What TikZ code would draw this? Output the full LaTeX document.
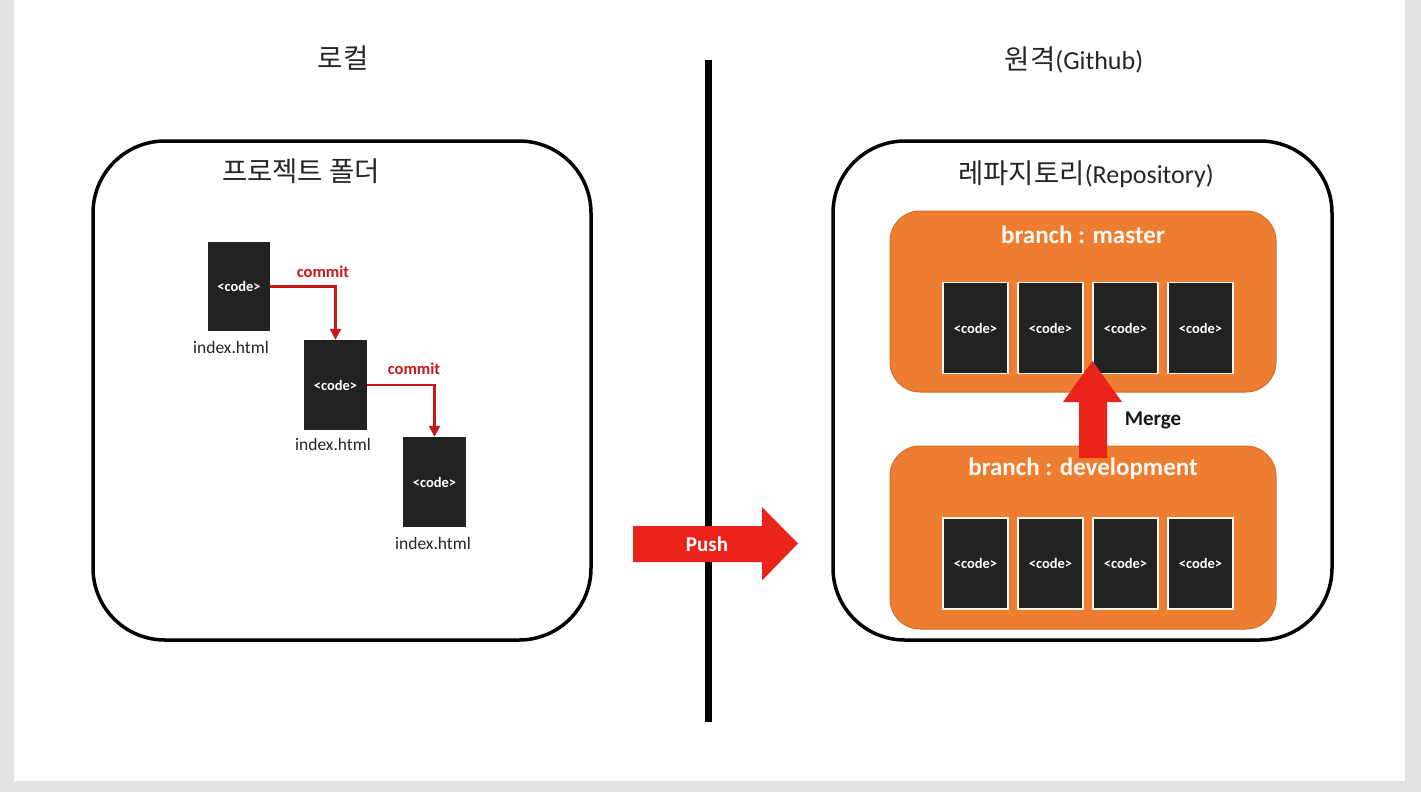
\documentclass[tikz,border=0pt]{standalone}
\usepackage{fontspec}
\setmainfont{Carlito}
\newfontfamily\kr{Noto Sans CJK KR}
\usetikzlibrary{arrows.meta}
\definecolor{pagegray}{RGB}{226,226,226}
\definecolor{codegray}{RGB}{34,34,34}
\definecolor{orangefill}{RGB}{237,125,49}
\definecolor{orangeline}{RGB}{214,110,42}
\definecolor{pushred}{RGB}{234,36,26}
\definecolor{commitred}{RGB}{200,24,24}
\tikzset{
  bigbox/.style={draw=black, line width=3.5pt, rounded corners=72pt},
  branchbox/.style={fill=orangefill, draw=orangeline, line width=1pt, rounded corners=30pt},
  codebox/.style={fill=codegray, inner sep=0pt, text=white,
    font=\bfseries\fontsize{14.5}{14.5}\selectfont},
  codeboxw/.style={codebox, draw=white!92!orange, line width=1.2pt,
    minimum width=65pt, minimum height=91pt, font=\bfseries\fontsize{14.5}{14.5}\selectfont},
  filelabel/.style={font=\fontsize{17.5}{17.5}\selectfont, text=black!85, inner sep=0pt},
  commitlabel/.style={font=\bfseries\fontsize{16.5}{16.5}\selectfont, text=commitred, inner sep=0pt},
  commitarrow/.style={draw=commitred, line width=2.5pt, -{Triangle[length=11pt,width=11pt]}},
  titletext/.style={inner sep=0pt, text=black!85},
  krtext/.style={font=\kr\fontsize{27.5}{27.5}\selectfont},
  branchlabel/.style={font=\bfseries\fontsize{25}{25}\selectfont, text=white!95!orange, inner sep=0pt},
}
\begin{document}
\begin{tikzpicture}[x=1pt,y=-1pt]
\useasboundingbox (0,0) rectangle (1421,792);
\fill[pagegray] (0,0) rectangle (1421,792);
\fill[white] (14,0) rectangle (1405,781);

% titles
\node[titletext, krtext] (tlocal) at (343,58) {로컬};
\node[titletext, krtext] (tremote) at (1074,60) {원격{\rmfamily\fontsize{26}{26}\selectfont(Github)}};

% divider
\draw[line width=7pt] (708,60) -- (708,722);

% local box
\draw[bigbox] (93,141) rectangle (591,640);
\node[titletext, krtext] (tfolder) at (301,171) {프로젝트 폴더};

\node[codebox, minimum width=62pt, minimum height=89pt] (c1) at (239,286.5) {<code>};
\node[codebox, minimum width=63pt, minimum height=90pt] (c2) at (335.5,385) {<code>};
\node[codebox, minimum width=63pt, minimum height=90pt] (c3) at (434.5,482) {<code>};
\node[filelabel] (f1) at (231,347) {index.html};
\node[filelabel] (f2) at (333,444) {index.html};
\node[filelabel] (f3) at (433,543) {index.html};

\draw[commitarrow] (c1.east) -| (c2.north);
\draw[commitarrow] (c2.east) -| (c3.north);
\node[commitlabel] (cm1) at (323,272) {commit};
\node[commitlabel] (cm2) at (414,369) {commit};

% remote box
\draw[bigbox] (833,141) rectangle (1332,640);
\node[titletext, krtext] (trepo) at (1086,174) {레파지토리{\rmfamily\fontsize{26}{26}\selectfont(Repository)}};

\draw[branchbox] (890,211) rectangle (1276,392);
\node[branchlabel] (bm) at (1083,235) {branch : master};
\foreach \i/\x in {1/975.5,2/1050.5,3/1125.5,4/1200.5}
  \node[codeboxw] (m\i) at (\x,328) {<code>};

\draw[branchbox] (890,446) rectangle (1276,629);
\node[branchlabel] (bd) at (1083,469) {branch : development};
\foreach \i/\x in {1/975.5,2/1050.5,3/1125.5,4/1200.5}
  \node[codeboxw] (d\i) at (\x,563.5) {<code>};

% merge arrow
\fill[pushred] (1079,458) -- (1079,402) -- (1063,402) -- (1092.5,361) -- (1122,402) -- (1107,402) -- (1107,458) -- cycle;
\node[font=\bfseries\fontsize{21}{21}\selectfont, inner sep=0pt, text=black!90] (merge) at (1153,420) {Merge};

% push arrow
\fill[pushred] (633,526) -- (762,526) -- (762,507) -- (798,543.5) -- (762,580.5) -- (762,562) -- (633,562) -- cycle;
\node[font=\bfseries\fontsize{21}{21}\selectfont, inner sep=0pt, text=white] (push) at (707,544) {Push};
\end{tikzpicture}
\end{document}
